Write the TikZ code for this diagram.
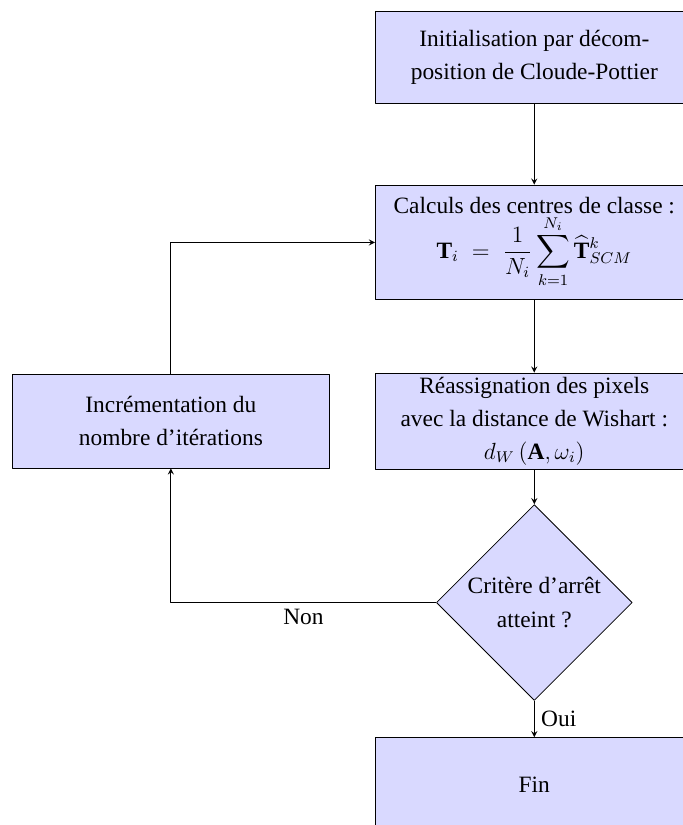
\documentclass[tikz,border=0pt]{standalone}
\usepackage{amsmath}
\usepackage{fontspec}
\setmainfont{Liberation Serif}
\usetikzlibrary{shapes.geometric}

\begin{document}
\begin{tikzpicture}[line join=round, >=stealth, font=\fontsize{12}{17}\selectfont,
		bloc/.style={draw, fill=blue!15, minimum width=5.73cm, align=center, inner sep=2pt},
		test/.style={draw, fill=blue!15, diamond, minimum size=3.53cm, align=center, inner sep=1pt}]
	\useasboundingbox (0,0) rectangle (12.31,-14.87);
	\node[bloc, minimum height=1.66cm] (init) at (9.63,-1.03) {Initialisation par décom-\\position de Cloude-Pottier};
	\node[bloc, minimum height=2.07cm] (calc) at (9.63,-4.37) {Calculs des centres de classe :\\$\displaystyle \mathbf{T}_i \;=\; \frac{1}{N_i}\sum_{k=1}^{N_i}\widehat{\mathbf{T}}^k_{SCM}$};
	\node[bloc, minimum height=1.69cm] (reass) at (9.63,-7.59) {Réassignation des pixels\\avec la distance de Wishart :\\$d_W\left(\mathbf{A},\omega_i\right)$};
	\node[bloc, minimum height=1.69cm] (incr) at (3.08,-7.59) {Incrémentation du\\nombre d’itérations};
	\node[test] (crit) at (9.63,-10.86) {Critère d’arrêt\\atteint ?};
	\node[bloc, minimum height=1.69cm] (fin) at (9.63,-14.14) {Fin};
	\draw[->] (init) -- (calc);
	\draw[->] (calc) -- (reass);
	\draw[->] (reass) -- (crit);
	\draw[->] (crit) -- node[right]{Oui} (fin);
	\draw[->] (crit) -| node[pos=0.25, below]{Non} (incr);
	\draw[->] (incr) |- (calc);
\end{tikzpicture}
\end{document}
